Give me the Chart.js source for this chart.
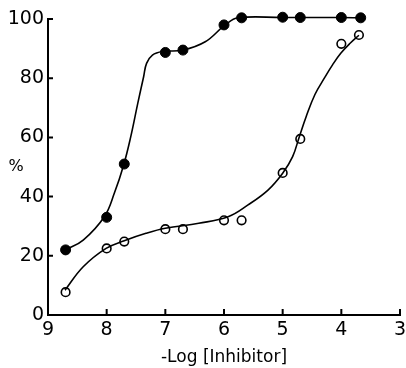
<!DOCTYPE html>
<html>
<head>
<meta charset="utf-8">
<script src="https://cdn.jsdelivr.net/npm/chart.js@4"></script>
<style>
  html, body { margin: 0; padding: 0; background: #fff; }
  #wrap { width: 406px; height: 368px; }
</style>
</head>
<body>
<div id="wrap"><canvas id="myChart"></canvas></div>
<script>
// measured points, x = -log[inhibitor], y = %
const filledX = [8.7, 8.0, 7.7, 7.0, 6.7, 6.0, 5.7, 5.0, 4.7, 4.0, 3.67];
const filledY = [22, 33, 51, 88.7, 89.5, 98, 100.4, 100.6, 100.5, 100.5, 100.4];
const openX = [8.7, 8.0, 7.7, 7.0, 6.7, 6.0, 5.7, 5.0, 4.7, 4.0, 3.7];
const openY = [7.7, 22.5, 24.8, 29, 29, 32, 32, 48, 59.5, 91.6, 94.6];

// fitted curves
const filledCurveX = [8.7, 8.4, 8.04, 7.87, 7.71, 7.59, 7.47, 7.37, 7.32, 7.22, 7.05, 6.7, 6.32, 5.98, 5.76, 5.0, 4.0, 3.67];
const filledCurveY = [22, 25.3, 33.2, 41.1, 50.7, 60.2, 71.5, 80.5, 85, 87.8, 89, 89.5, 92.3, 98, 100.4, 100.5, 100.5, 100.4];
const openCurveX = [8.71, 8.4, 8.01, 7.7, 7.33, 7.0, 6.43, 5.93, 5.59, 5.25, 5.0, 4.83, 4.72, 4.6, 4.45, 4.29, 4.15, 4.01, 3.85, 3.7];
const openCurveY = [8.4, 16.3, 22.5, 25.1, 27.6, 29.3, 31, 33.2, 37.2, 42.2, 47.9, 53.5, 60, 67, 74.5, 80, 84.5, 88.4, 91.8, 94.5];

const xTicks = [9, 8, 7, 6, 5, 4, 3];
const yTicks = [0, 20, 40, 60, 80, 100];

function pts(xs, ys) {
  const out = [];
  for (let i = 0; i < xs.length; i++) {
    out.push({x: xs[i], y: ys[i]});
  }
  return out;
}

const fontName = "'DejaVu Sans', sans-serif";

// inward tick marks + the "%" label
const extras = {
  id: 'extras',
  afterDraw(chart) {
    const ctx = chart.ctx;
    const xs = chart.scales.x;
    const ys = chart.scales.y;
    const area = chart.chartArea;
    ctx.save();
    ctx.strokeStyle = '#000';
    ctx.lineWidth = 2;
    ctx.beginPath();
    for (let i = 0; i < yTicks.length; i++) {
      const py = ys.getPixelForValue(yTicks[i]);
      ctx.moveTo(area.left - 1, py);
      ctx.lineTo(area.left + 5, py);
    }
    for (let i = 0; i < xTicks.length; i++) {
      const px = xs.getPixelForValue(xTicks[i]);
      ctx.moveTo(px, area.bottom);
      ctx.lineTo(px, area.bottom - 6);
    }
    ctx.stroke();
    ctx.fillStyle = '#000';
    ctx.font = "16px " + fontName;
    ctx.textAlign = 'center';
    ctx.textBaseline = 'middle';
    ctx.fillText('%', 16, 167);
    ctx.restore();
  }
};

const data = {
  datasets: [
    {
      data: pts(filledCurveX, filledCurveY),
      borderColor: '#000',
      borderWidth: 1.6,
      pointRadius: 0,
      tension: 0.4,
      showLine: true
    },
    {
      data: pts(openCurveX, openCurveY),
      borderColor: '#000',
      borderWidth: 1.6,
      pointRadius: 0,
      tension: 0.4,
      showLine: true
    },
    {
      data: pts(filledX, filledY),
      showLine: false,
      pointRadius: 5,
      pointBackgroundColor: '#000',
      pointBorderColor: '#000',
      pointBorderWidth: 1
    },
    {
      data: pts(openX, openY),
      showLine: false,
      pointRadius: 4.3,
      pointBackgroundColor: '#fff',
      pointBorderColor: '#000',
      pointBorderWidth: 1.6
    }
  ]
};

const config = {
  type: 'scatter',
  data: data,
  options: {
    responsive: true,
    maintainAspectRatio: false,
    animation: false,
    clip: false,
    layout: { padding: { left: 0, right: 4, top: 19, bottom: 0 } },
    plugins: { legend: { display: false }, tooltip: { enabled: false } },
    scales: {
      x: {
        type: 'linear',
        reverse: true,
        min: 3,
        max: 9,
        afterBuildTicks(scale) { scale.ticks = xTicks.map(v => ({value: v})); },
        afterFit(scale) {
          scale.height = 53;
          scale.paddingLeft = 0;
          scale.paddingRight = 0;
        },
        grid: { display: false, drawTicks: false },
        border: { display: true, color: '#000', width: 2 },
        ticks: { color: '#000', font: { family: fontName, size: 19 }, padding: 4, maxRotation: 0 },
        title: {
          display: true,
          text: '-Log [Inhibitor]',
          color: '#000',
          font: { family: fontName, size: 17 },
          padding: { top: 2, bottom: 0 }
        }
      },
      y: {
        min: 0,
        max: 100,
        afterBuildTicks(scale) { scale.ticks = yTicks.map(v => ({value: v})); },
        afterFit(scale) {
          scale.width = 48;
          scale.paddingTop = 0;
          scale.paddingBottom = 0;
        },
        grid: { display: false, drawTicks: false },
        border: { display: true, color: '#000', width: 2 },
        ticks: { color: '#000', font: { family: fontName, size: 19 }, padding: 4 }
      }
    }
  },
  plugins: [extras]
};

const chart = new Chart(document.getElementById('myChart'), config);
</script>
</body>
</html>
